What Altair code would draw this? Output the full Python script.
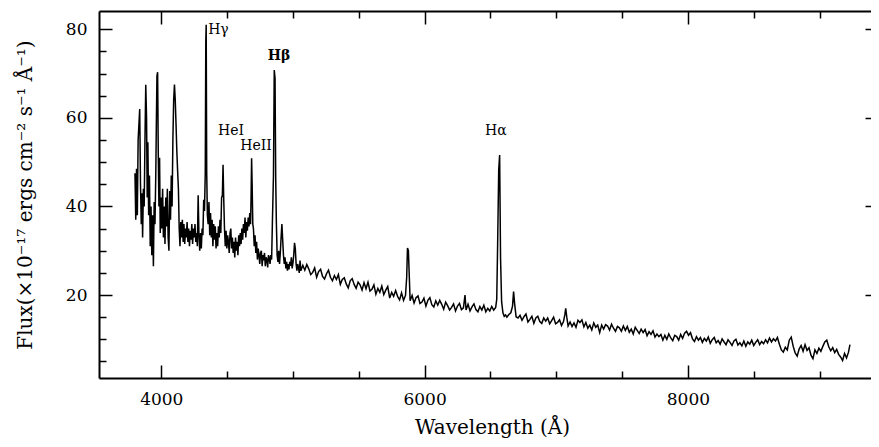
import altair as alt
import pandas as pd

# ---------------- data ----------------
wl_blue = [
    3800, 3806, 3812, 3818, 3824, 3830, 3836, 3842, 3848, 3854,
    3858, 3864, 3870, 3876, 3882, 3888, 3893, 3898, 3904, 3910,
    3916, 3922, 3928, 3934, 3940, 3946, 3952, 3958, 3963, 3967,
    3972, 3977, 3982, 3987, 3992, 3998, 4004, 4010, 4016, 4022,
    4028, 4034, 4040, 4046, 4052, 4058, 4064, 4070, 4076, 4082,
    4088, 4094, 4100, 4106, 4112, 4118, 4124, 4130, 4136, 4142,
    4148, 4154, 4160, 4166, 4172, 4178, 4184, 4190, 4196, 4202,
    4208, 4214, 4220, 4226, 4232, 4238, 4244, 4250, 4256, 4262,
    4268, 4274, 4280, 4286, 4292, 4298, 4304, 4310, 4316, 4322,
    4328, 4334, 4338, 4341, 4345, 4350, 4356, 4362, 4368, 4374,
]
fx_blue = [
    47.5, 37.0, 48.5, 38.0, 55.0, 58.5, 62.0, 45.0, 36.0, 43.0,
    33.0, 44.0, 40.0, 55.0, 67.5, 60.0, 42.0, 54.5, 38.0, 47.0,
    31.0, 40.0, 29.0, 38.0, 26.5, 41.0, 36.0, 47.0, 60.0, 69.5,
    70.3, 52.0, 40.0, 51.0, 34.0, 42.0, 35.0, 44.0, 33.0, 40.0,
    31.5, 42.0, 35.5, 44.0, 33.0, 30.0, 43.5, 37.0, 47.0, 40.0,
    55.0, 64.0, 67.5, 64.0, 58.5, 52.5, 48.0, 44.0, 35.0, 31.0,
    36.5, 33.0, 37.0, 32.0, 36.0, 31.5, 35.0, 33.0, 36.5, 32.0,
    35.0, 31.0, 34.5, 32.5, 36.0, 31.5, 35.0, 33.0, 36.0, 32.0,
    34.0, 31.0, 42.5, 33.5, 30.0, 34.0, 30.5, 35.0, 33.5, 41.5,
    39.0, 47.5, 77.0, 81.0, 47.5, 38.0, 36.0, 41.0, 33.5, 38.5,
]

wl_green = [
    4380, 4386, 4392, 4398, 4404, 4410, 4416, 4422, 4428, 4434,
    4440, 4446, 4452, 4458, 4464, 4469, 4474, 4480, 4486, 4492,
    4498, 4504, 4510, 4516, 4522, 4528, 4534, 4540, 4546, 4552,
    4558, 4564, 4570, 4576, 4582, 4588, 4594, 4600, 4606, 4612,
    4618, 4624, 4630, 4636, 4642, 4648, 4654, 4660, 4666, 4672,
    4678, 4682, 4686, 4690, 4695, 4700, 4706, 4712, 4718, 4724,
    4730, 4736, 4742, 4748, 4754, 4760, 4766, 4772, 4778, 4784,
    4790, 4796, 4802, 4808, 4814, 4820, 4826, 4832, 4838, 4844,
    4852, 4858, 4864, 4869, 4874, 4880, 4886, 4892, 4898, 4904,
    4910, 4916, 4922, 4928, 4934, 4940, 4946, 4952, 4958, 4964,
    4970, 4976, 4982, 4988, 4994, 5000, 5006, 5012, 5018, 5024,
    5030, 5036, 5042, 5048, 5054, 5060,
]
fx_green = [
    33.0, 37.0, 31.0, 36.0, 32.5, 35.5, 30.5, 34.0, 31.0, 35.5,
    33.0, 37.0, 34.0, 42.0, 42.5, 49.4, 42.0, 35.0, 31.0, 34.5,
    30.5, 33.5, 32.0, 29.5, 34.0, 35.0, 30.5, 33.0, 29.5, 32.0,
    28.5, 33.0, 30.0, 32.0, 29.0, 33.5, 31.0, 34.0, 31.5, 35.0,
    32.5, 36.0, 34.0, 37.5, 33.0, 36.5, 34.5, 37.5, 35.5, 38.5,
    36.0, 42.0, 50.9, 45.0, 36.0, 35.0, 31.0, 33.5, 29.5, 32.0,
    28.0, 30.5, 29.0, 27.0, 29.5, 30.0, 26.5, 29.0, 27.8, 29.5,
    26.5, 28.5, 28.0, 26.2, 29.0, 28.5, 27.0, 29.0, 28.0, 36.5,
    47.0, 70.8, 69.0, 46.5, 36.5, 29.0, 27.5, 30.0, 27.0, 29.5,
    33.0, 36.0, 32.5, 29.0, 27.0, 28.5, 26.0, 27.5, 25.5, 27.0,
    25.8, 27.5, 26.6, 28.5, 26.0, 27.2, 29.0, 31.8, 30.5, 27.0,
    25.5, 27.0, 26.2, 25.0, 27.8, 25.5,
]

wl_yellow = [
    5075, 5090, 5105, 5120, 5135, 5150, 5165, 5180, 5195, 5210,
    5225, 5240, 5255, 5270, 5285, 5300, 5315, 5330, 5345, 5360,
    5375, 5390, 5405, 5420, 5435, 5450, 5465, 5480, 5495, 5510,
    5525, 5540, 5555, 5570, 5585, 5600, 5615, 5630, 5645, 5660,
    5675, 5690, 5705, 5720, 5735, 5750, 5765, 5780, 5795, 5810,
    5825, 5840, 5855, 5864, 5870, 5877, 5884, 5890, 5905, 5920,
    5935, 5950, 5965, 5980, 5995, 6010, 6025, 6040, 6055, 6070,
    6085, 6100, 6115,
]
fx_yellow = [
    26.7, 25.6, 26.9, 25.9, 24.6, 25.1, 26.1, 24.0, 25.3, 25.8,
    24.2, 23.6, 24.8, 25.6, 24.0, 23.2, 24.4, 23.5, 24.6, 22.4,
    23.5, 23.9, 22.5, 21.6, 23.2, 23.7, 22.4, 21.5, 22.9, 22.3,
    21.1, 22.8, 21.4, 22.9, 20.9, 21.3, 22.3, 20.2, 21.5, 20.6,
    22.0, 20.1, 21.1, 21.9, 19.3, 20.6, 19.7, 21.0, 19.7, 18.9,
    20.5, 18.8, 19.9, 24.0, 30.6, 30.0, 24.0, 18.7, 19.9, 18.2,
    19.4, 19.8, 18.1, 18.4, 19.3, 17.5, 18.8, 19.4, 17.8, 17.3,
    18.7, 17.7, 18.8,
]

wl_red = [
    6130, 6145, 6160, 6175, 6190, 6205, 6220, 6235, 6250, 6265,
    6280, 6295, 6307, 6315, 6330, 6345, 6360, 6375, 6390, 6405,
    6420, 6435, 6450, 6465, 6480, 6495, 6510, 6525, 6540, 6548,
    6555, 6563, 6570, 6577, 6585, 6595, 6605, 6615, 6625, 6640,
    6655, 6668, 6676, 6684, 6695, 6710, 6725, 6740, 6755, 6770,
    6785, 6800, 6815, 6830, 6845, 6860, 6875, 6890, 6905, 6920,
    6935, 6950, 6965, 6980, 6995, 7010, 7025, 7040, 7055, 7065,
    7072, 7080, 7090, 7105, 7120, 7135, 7150, 7165, 7180, 7195,
    7210, 7225, 7240, 7255, 7270, 7285, 7300, 7315, 7330, 7345,
    7360, 7375,
]
fx_red = [
    17.9, 16.8, 18.4, 17.6, 16.6, 17.2, 18.0, 16.4, 17.5, 18.1,
    16.7, 17.1, 20.0, 16.6, 17.9, 16.4, 17.3, 18.0, 16.7, 16.2,
    17.4, 16.6, 17.7, 16.2, 17.0, 16.4, 17.4, 16.6, 17.2, 19.0,
    31.7, 48.2, 51.6, 28.3, 18.5, 16.0, 15.2, 15.5, 15.0, 15.6,
    16.0, 17.5, 20.8, 18.0, 15.1, 14.8, 15.4, 14.3, 15.1, 15.7,
    13.9, 14.5, 15.2, 13.6, 14.8, 15.2, 14.0, 13.6, 14.8, 14.1,
    14.8, 13.5, 14.2, 15.0, 13.5, 13.8, 14.4, 13.1, 14.0, 15.5,
    17.0, 15.0, 13.0, 13.9, 12.9, 13.7, 12.7, 14.3, 13.8, 14.4,
    12.8, 13.8, 12.5, 13.2, 12.1, 13.7, 12.7, 13.2, 11.5, 13.2,
    12.3, 13.3,
]

wl_ir = [
    7390, 7405, 7420, 7435, 7450, 7465, 7480, 7495, 7510, 7525,
    7540, 7555, 7570, 7585, 7600, 7615, 7630, 7645, 7660, 7675,
    7690, 7705, 7720, 7735, 7750, 7765, 7780, 7795, 7810, 7825,
    7840, 7855, 7870, 7885, 7900, 7915, 7930, 7945, 7960, 7975,
    7990, 8005, 8020, 8035, 8050, 8065, 8080, 8095, 8110, 8125,
    8140, 8155, 8170, 8185, 8200, 8215, 8230, 8245, 8260, 8275,
    8290, 8305, 8320, 8335, 8350, 8365, 8380, 8395, 8410, 8425,
    8440, 8455, 8470, 8485, 8500, 8515, 8530, 8545, 8560, 8575,
    8590, 8605, 8620, 8635, 8650, 8665, 8680, 8695, 8710, 8725,
    8740, 8755, 8770, 8785, 8800, 8815, 8830, 8845, 8860, 8875,
    8890, 8905, 8920, 8935, 8950, 8965, 8980, 8995, 9010, 9025,
    9040, 9055, 9070, 9085, 9100, 9115, 9130, 9145, 9160, 9175,
    9190, 9205, 9220, 9231,
]
fx_ir = [
    13.0, 12.1, 13.4, 12.5, 11.8, 12.9, 12.6, 11.8, 13.0, 12.0,
    12.9, 11.6, 12.3, 11.2, 12.7, 12.0, 11.3, 12.3, 11.5, 12.2,
    10.8, 11.7, 11.1, 11.9, 10.5, 11.2, 10.6, 11.1, 9.8, 10.9,
    10.0, 11.2, 10.3, 9.7, 10.9, 10.6, 9.8, 11.1, 10.2, 11.4,
    11.8, 10.9, 11.5, 10.1, 9.5, 10.6, 9.8, 10.4, 9.3, 10.2,
    9.6, 10.5, 9.1, 9.9, 10.4, 9.2, 9.7, 8.9, 10.1, 9.4,
    8.8, 9.9, 9.3, 8.6, 9.6, 10.0, 8.7, 9.2, 8.5, 9.6,
    8.4, 9.4, 8.9, 9.8, 8.6, 9.3, 9.9, 8.8, 9.5, 9.0,
    9.9, 9.2, 10.3, 9.4, 10.1, 9.6, 10.4, 8.9, 7.6, 7.1,
    8.2, 7.6, 9.8, 10.5, 8.4, 6.9, 6.2, 7.8, 8.6, 7.3,
    8.8, 7.5, 8.1, 6.4, 5.6, 7.6, 6.8, 8.0, 7.3, 8.4,
    9.4, 9.8, 8.3, 7.4, 8.1, 7.0, 7.7, 6.6, 6.0, 5.2,
    6.8, 5.8, 7.1, 8.8,
]

line_labels = ["H\u03b3", "HeI", "HeII", "H\u03b2", "H\u03b1"]
label_wavelength = [4434, 4529, 4719, 4894, 6542]
label_flux = [79.8, 57.0, 53.6, 74.0, 57.0]
label_bold = [False, False, False, True, False]

x_major = [4000, 6000, 8000]
x_minor = [4500, 5000, 5500, 6500, 7000, 7500, 8500, 9000]
y_major = [20, 40, 60, 80]
y_minor = [5, 10, 15, 25, 30, 35, 45, 50, 55, 65, 70, 75]

# ---------------- chart ----------------
W, H = 772, 367
XDOM = [3526.8, 9390.9]
YDOM = [1.26, 84.13]
FONT = "DejaVu Serif"

wavelength = wl_blue + wl_green + wl_yellow + wl_red + wl_ir
flux = fx_blue + fx_green + fx_yellow + fx_red + fx_ir
spec_df = pd.DataFrame({"wavelength": wavelength, "flux": flux})
lab_df = pd.DataFrame({"label": line_labels, "wavelength": label_wavelength,
                       "flux": label_flux, "bold": label_bold})

xs = alt.Scale(domain=XDOM, nice=False, zero=False)
ys = alt.Scale(domain=YDOM, nice=False, zero=False)


def tick_axis(orient, offset, values, size, domain=False):
    return alt.Axis(orient=orient, offset=offset, values=values, tickSize=size,
                    tickWidth=1.5, tickColor="black", labels=False, domain=domain,
                    domainColor="black", domainWidth=2, grid=False, title="")


x_label_axis = alt.Axis(orient="bottom", values=x_major, format="d", ticks=False,
                        tickSize=0, labelFont=FONT, labelFontSize=17,
                        labelColor="black", labelPadding=13, domain=True,
                        domainColor="black", domainWidth=2, grid=False,
                        title="Wavelength (\u00c5)", titleFont=FONT,
                        titleFontSize=20, titleFontWeight="normal",
                        titleColor="black", titleX=393, titleY=49,
                        titleBaseline="middle")
y_label_axis = alt.Axis(orient="left", values=y_major, format="d", ticks=False,
                        tickSize=0, labelFont=FONT, labelFontSize=17,
                        labelColor="black", labelPadding=12, domain=True,
                        domainColor="black", domainWidth=2, grid=False,
                        title="Flux(\u00d710\u207b\u00b9\u2077 ergs cm\u207b\u00b2 s\u207b\u00b9 \u00c5\u207b\u00b9)",
                        titleFont=FONT, titleFontSize=20, titleFontWeight="normal",
                        titleColor="black", titleX=-74, titleY=183.5,
                        titleAngle=270, titleBaseline="middle")

spectrum = alt.Chart(spec_df).mark_line(
    interpolate="linear", color="black", strokeWidth=1.5, clip=True
).encode(
    x=alt.X("wavelength:Q", scale=xs, axis=x_label_axis),
    y=alt.Y("flux:Q", scale=ys, axis=y_label_axis),
)

labels_normal = alt.Chart(lab_df).transform_filter(
    "!datum.bold"
).mark_text(font=FONT, fontSize=14, color="black", align="center", baseline="middle").encode(
    x=alt.X("wavelength:Q", scale=xs, axis=tick_axis("top", -H, x_major, 13)),
    y=alt.Y("flux:Q", scale=ys, axis=tick_axis("right", -W, y_major, 13)),
    text="label:N",
)

labels_bold = alt.Chart(lab_df).transform_filter(
    "datum.bold"
).mark_text(font=FONT, fontSize=14, fontWeight="bold", color="black", align="center",
            baseline="middle").encode(
    x=alt.X("wavelength:Q", scale=xs, axis=tick_axis("top", -H, x_minor, 7)),
    y=alt.Y("flux:Q", scale=ys, axis=tick_axis("right", -W, y_minor, 7)),
    text="label:N",
)

top_major = alt.Chart(lab_df).mark_point(opacity=0).encode(
    x=alt.X("wavelength:Q", scale=xs, axis=tick_axis("bottom", -H, x_major, 13, domain=True)),
    y=alt.Y("flux:Q", scale=ys, axis=tick_axis("left", -(W + 7), y_major, 13)),
)

top_minor = alt.Chart(lab_df).mark_point(opacity=0).encode(
    x=alt.X("wavelength:Q", scale=xs, axis=tick_axis("bottom", -H, x_minor, 7)),
    y=alt.Y("flux:Q", scale=ys, axis=tick_axis("left", -(W + 7), y_minor, 7)),
)

chart = alt.layer(
    spectrum, labels_normal, labels_bold, top_major, top_minor
).resolve_scale(
    x="shared", y="shared"
).resolve_axis(
    x="independent", y="independent"
).properties(
    width=W, height=H,
    autosize=alt.AutoSizeParams(type="none"),
    padding={"left": 91, "top": 3, "right": 0, "bottom": 61},
).configure_view(strokeWidth=0)

chart.save("out.html", embed_options={"renderer": "svg", "actions": False})
